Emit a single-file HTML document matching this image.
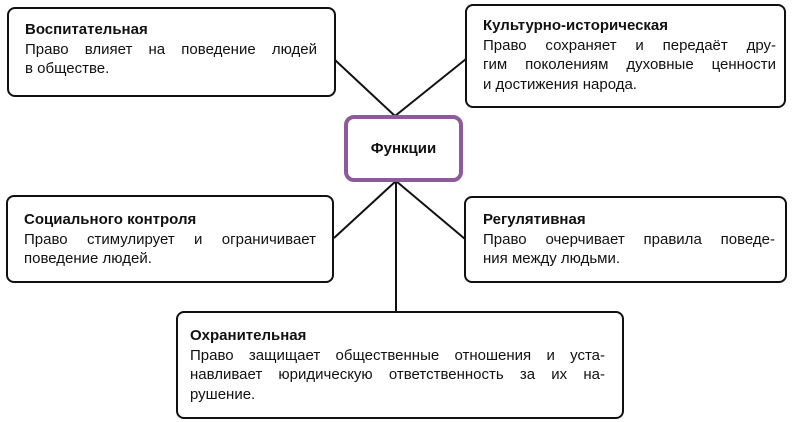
<!DOCTYPE html>
<html><head><meta charset="utf-8"><style>
body{margin:0;width:800px;height:422px;background:#fff;position:relative;overflow:hidden;font-family:"Liberation Sans",Arial,sans-serif;color:#111}
.b{position:absolute;border:2px solid #111;border-radius:8px;box-sizing:border-box;background:#fff}
.t{position:absolute;font-size:15px;line-height:19.5px}
.t b{display:block;font-weight:bold}
.t span{display:block;text-align:justify;text-align-last:justify;white-space:nowrap}
.t span.l{text-align-last:left}
</style></head><body>
<svg width="800" height="422" style="position:absolute;left:0;top:0">
<g stroke="#111" stroke-width="2" fill="none">
<line x1="335" y1="60" x2="395" y2="116"/>
<line x1="466" y1="59" x2="395" y2="116"/>
<line x1="396" y1="181" x2="334" y2="238"/>
<line x1="396" y1="181" x2="465" y2="239"/>
<line x1="396" y1="181" x2="396" y2="312"/>
</g></svg>
<div class="b" style="left:7px;top:7px;width:329px;height:90px"></div>
<div class="t" style="left:25px;top:20px;width:292px"><b>Воспитательная</b><span style="white-space:normal">Право влияет на поведение людей</span><span class="l">в обществе.</span></div>
<div class="b" style="left:465px;top:4px;width:321px;height:104px"></div>
<div class="t" style="left:483px;top:16px;width:293px"><b>Культурно-историческая</b><span style="white-space:normal">Право сохраняет и передаёт дру-</span><span style="white-space:normal">гим поколениям духовные ценности</span><span class="l">и достижения народа.</span></div>
<div class="b" style="left:344px;top:115px;width:119px;height:67px;border:4px solid #8d5a9c;border-radius:10px"></div>
<div class="t" style="left:344px;top:139px;width:119px;text-align:center;font-weight:bold">Функции</div>
<div class="b" style="left:6px;top:195px;width:328px;height:88px"></div>
<div class="t" style="left:24px;top:210px;width:292px"><b>Социального контроля</b><span style="white-space:normal">Право стимулирует и ограничивает</span><span class="l">поведение людей.</span></div>
<div class="b" style="left:464px;top:196px;width:323px;height:87px"></div>
<div class="t" style="left:483px;top:210px;width:292px"><b>Регулятивная</b><span style="white-space:normal">Право очерчивает правила поведе-</span><span class="l">ния между людьми.</span></div>
<div class="b" style="left:176px;top:311px;width:448px;height:108px"></div>
<div class="t" style="left:190px;top:326px;width:415px"><b>Охранительная</b><span style="white-space:normal">Право защищает общественные отношения и уста-</span><span style="white-space:normal">навливает юридическую ответственность за их на-</span><span class="l">рушение.</span></div>
</body></html>
